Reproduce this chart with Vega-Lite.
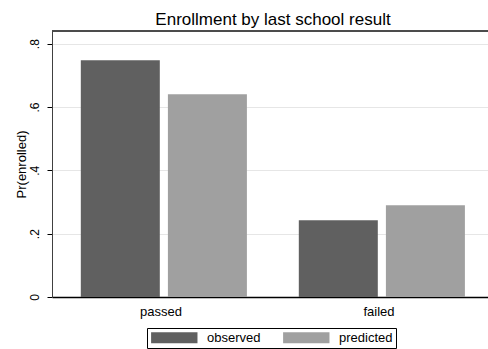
{
  "$schema": "https://vega.github.io/schema/vega-lite/v6.json",
  "autosize": {"type": "none"},
  "padding": {"left": 52, "top": 31, "right": 0, "bottom": 52},
  "width": 436,
  "height": 266,
  "background": "white",
  "config": {
    "font": "Liberation Sans",
    "view": {"stroke": null}
  },
  "title": {
    "text": "Enrollment by last school result",
    "fontSize": 17,
    "fontWeight": "normal",
    "color": "#000000",
    "anchor": "middle",
    "frame": "group",
    "offset": 2,
    "dx": 3
  },
  "data": {
    "values": [
      {"result": "passed", "series": "observed", "p": 0.748},
      {"result": "passed", "series": "predicted", "p": 0.640},
      {"result": "failed", "series": "observed", "p": 0.242},
      {"result": "failed", "series": "predicted", "p": 0.290}
    ]
  },
  "layer": [
    {
      "mark": {"type": "bar"},
      "encoding": {
        "x": {
          "field": "result",
          "type": "nominal",
          "sort": ["passed", "failed"],
          "scale": {"paddingInner": 0, "paddingOuter": 0},
          "axis": {
            "title": null,
            "ticks": false,
            "labelAngle": 0,
            "labelFontSize": 13,
            "labelColor": "#000000",
            "labelPadding": 8,
            "domainColor": "#000000",
            "domainWidth": 1.5
          }
        },
        "xOffset": {
          "field": "series",
          "type": "nominal",
          "scale": {"paddingInner": 0.093, "paddingOuter": 0.298, "align": 0.555}
        },
        "y": {
          "field": "p",
          "type": "quantitative",
          "scale": {"domain": [0, 0.84], "nice": false, "zero": true},
          "axis": {
            "title": "Pr(enrolled)",
            "titleFontSize": 13,
            "titleFontWeight": "normal",
            "titleColor": "#000000",
            "titlePadding": 0,
            "values": [0, 0.2, 0.4, 0.6, 0.8],
            "labelExpr": "datum.value == 0 ? '0' : replace(format(datum.value, '.1f'), '0.', '.')",
            "labelAngle": -90,
            "labelAlign": "center",
            "labelBaseline": "bottom",
            "labelFontSize": 12,
            "labelColor": "#000000",
            "labelPadding": 6,
            "tickSize": 5,
            "tickColor": "#000000",
            "domainColor": "#404040",
            "grid": true,
            "gridColor": "#e6e6e6",
            "gridWidth": 1
          }
        },
        "color": {
          "field": "series",
          "type": "nominal",
          "scale": {"domain": ["observed", "predicted"], "range": ["#606060", "#a0a0a0"]},
          "legend": {
            "title": null,
            "orient": "none",
            "legendX": 95,
            "legendY": 297,
            "direction": "horizontal",
            "strokeColor": "#000000",
            "fillColor": "#ffffff",
            "padding": 3,
            "symbolType": "M-0.9,-0.92H6.83V0.92H-0.9Z",
            "symbolSize": 144,
            "symbolStrokeWidth": 0,
            "symbolOpacity": 1,
            "labelFontSize": 13,
            "labelColor": "#000000",
            "labelOffset": 44,
            "columnPadding": 21
          }
        }
      }
    },
    {
      "mark": {"type": "rule", "color": "#404040", "strokeWidth": 1},
      "encoding": {"y": {"datum": 0.84}}
    }
  ]
}
